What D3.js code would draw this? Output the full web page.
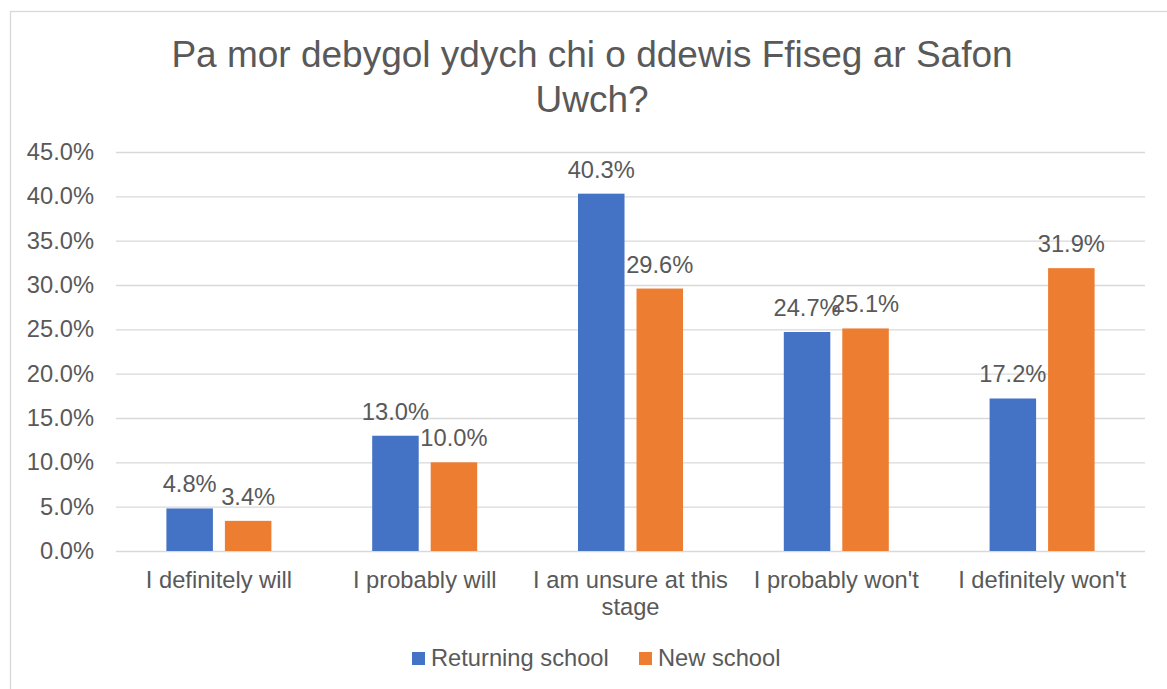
<!DOCTYPE html>
<html>
<head>
<meta charset="utf-8">
<script src="https://cdn.jsdelivr.net/npm/d3@7"></script>
<style>
  body { margin: 0; background: #fff; }
  svg text { font-family: "Liberation Sans", Arial, sans-serif; fill: #595959; }
  .axis .domain { display: none; }
</style>
</head>
<body>
<svg id="chart"></svg>
<script>
// chart data
const titleLines = ['Pa mor debygol ydych chi o ddewis Ffiseg ar Safon', 'Uwch?'];
const categories = ['I definitely will', 'I probably will', 'I am unsure at this stage', "I probably won't", "I definitely won't"];
const seriesNames = ['Returning school', 'New school'];
const returningSchool = [4.8, 13.0, 40.3, 24.7, 17.2];
const newSchool = [3.4, 10.0, 29.6, 25.1, 31.9];
const yTicks = [0, 5, 10, 15, 20, 25, 30, 35, 40, 45];
const colors = ['#4472C4', '#ED7D31'];

const width = 1167, height = 689;
const margin = { top: 152, right: 22, bottom: 138, left: 116 };
const innerW = width - margin.left - margin.right;
const innerH = height - margin.top - margin.bottom;

const svg = d3.select('#chart')
  .attr('width', width)
  .attr('height', height);

// outer chart border (only top and left are inside the view)
svg.append('rect')
  .attr('x', 10.5)
  .attr('y', 11.5)
  .attr('width', 1200)
  .attr('height', 700)
  .attr('fill', 'none')
  .attr('stroke', '#d9d9d9')
  .attr('stroke-width', 1.3);

// title
svg.append('text')
  .attr('text-anchor', 'middle')
  .style('font-size', '37px')
  .selectAll('tspan')
  .data(titleLines)
  .enter()
  .append('tspan')
  .attr('x', 592)
  .attr('y', (d, i) => 67 + i * 45)
  .text(d => d);

const g = svg.append('g')
  .attr('transform', `translate(${margin.left},${margin.top})`);

const x0 = d3.scaleBand()
  .domain(categories)
  .range([0, innerW]);

const groupW = 105;
const x1 = d3.scaleBand()
  .domain(seriesNames)
  .range([0, groupW])
  .paddingInner(0.205);

const y = d3.scaleLinear()
  .domain([0, 45])
  .range([innerH, 0]);

// y axis + gridlines
const yAxisG = g.append('g')
  .attr('class', 'axis y-axis')
  .call(d3.axisLeft(y)
    .tickValues(yTicks)
    .tickSize(-innerW)
    .tickPadding(22)
    .tickFormat(d => d.toFixed(1) + '%'));

yAxisG.selectAll('.tick line')
  .attr('stroke', '#d9d9d9')
  .attr('stroke-width', 1.3);
yAxisG.selectAll('.tick text')
  .style('font-size', '23.7px')
  .attr('fill', '#595959');

// x axis with category labels
const xAxisG = g.append('g')
  .attr('class', 'axis x-axis')
  .attr('transform', `translate(0,${innerH})`)
  .call(d3.axisBottom(x0).tickSize(0).tickPadding(0));

xAxisG.selectAll('.tick text')
  .style('font-size', '23.7px')
  .attr('fill', '#595959')
  .call(wrap, 205);

function wrap(texts, maxW) {
  texts.each(function () {
    const text = d3.select(this);
    const words = text.text().split(/\s+/);
    text.text(null).attr('y', null).attr('dy', null);
    let line = [];
    let lineNo = 0;
    let tspan = text.append('tspan').attr('x', 0).attr('y', 37);
    words.forEach(w => {
      line.push(w);
      tspan.text(line.join(' '));
      if (tspan.node().getComputedTextLength() > maxW && line.length > 1) {
        line.pop();
        tspan.text(line.join(' '));
        line = [w];
        lineNo++;
        tspan = text.append('tspan').attr('x', 0).attr('y', 37 + lineNo * 27).text(w);
      }
    });
  });
}

// bars
const rows = categories.map((c, i) => ({ cat: c, values: [returningSchool[i], newSchool[i]] }));

const groups = g.selectAll('.group')
  .data(rows)
  .enter()
  .append('g')
  .attr('class', 'group')
  .attr('transform', d => `translate(${x0(d.cat) + x0.bandwidth() / 2 - groupW / 2},0)`);

const cells = groups.selectAll('.cell')
  .data(d => d.values.map((v, j) => ({ name: seriesNames[j], v: v, j: j })))
  .enter();

cells.append('rect')
  .attr('class', 'bar')
  .attr('x', d => x1(d.name))
  .attr('y', d => y(d.v))
  .attr('width', x1.bandwidth())
  .attr('height', d => innerH - y(d.v))
  .attr('fill', d => colors[d.j]);

cells.append('text')
  .attr('x', d => x1(d.name) + x1.bandwidth() / 2)
  .attr('y', d => y(d.v) - 16)
  .attr('text-anchor', 'middle')
  .style('font-size', '23.7px')
  .attr('fill', '#404040')
  .text(d => d.v.toFixed(1) + '%');

// legend
const legend = svg.append('g')
  .attr('transform', 'translate(412,652)');

const legendX = [0, 227];
seriesNames.forEach((name, i) => {
  const item = legend.append('g').attr('transform', `translate(${legendX[i]},0)`);
  item.append('rect')
    .attr('width', 13)
    .attr('height', 13)
    .attr('fill', colors[i]);
  item.append('text')
    .attr('x', 19)
    .attr('y', 14)
    .style('font-size', '23.7px')
    .text(name);
});
</script>
</body>
</html>
